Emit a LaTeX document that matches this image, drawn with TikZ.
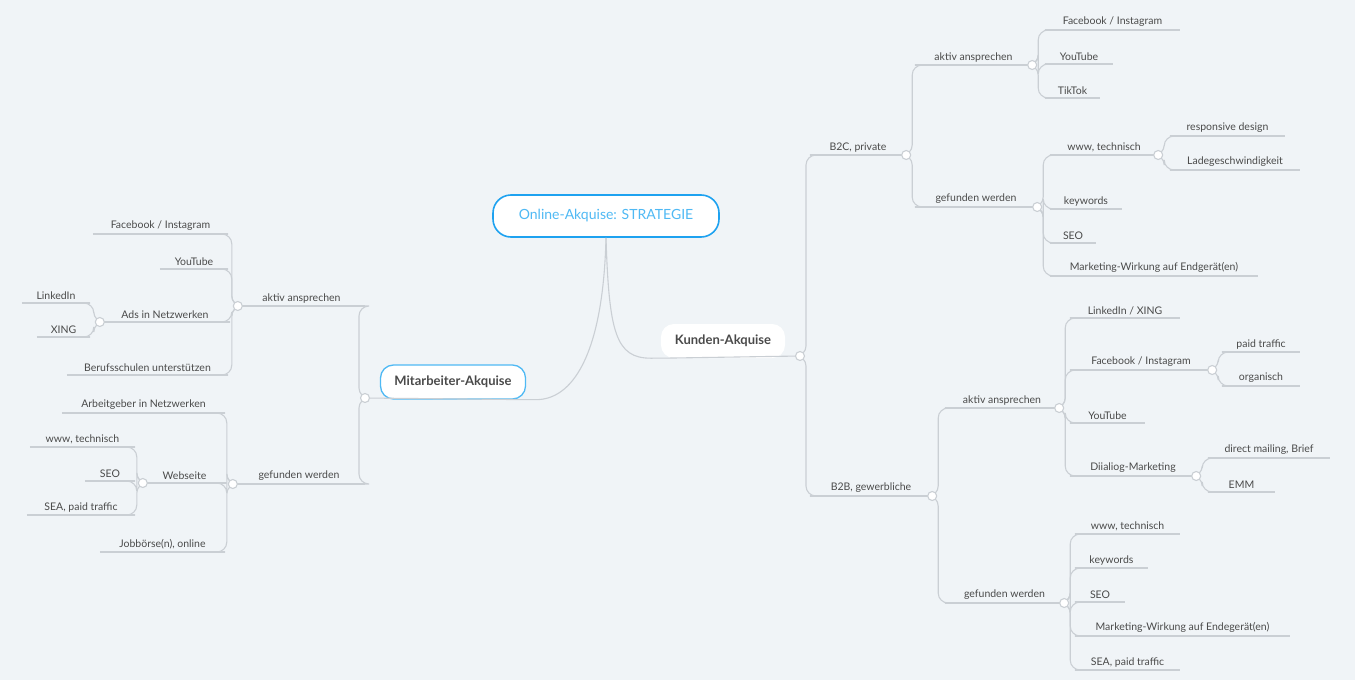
\documentclass[tikz,border=0pt]{standalone}
\usepackage{fontspec}
\setmainfont{Lato}
\definecolor{mmBg}{HTML}{F0F4F7}
\definecolor{mmLine}{HTML}{CACFD4}
\definecolor{mmText}{HTML}{4A4A4A}
\definecolor{mmBlue}{HTML}{1EA2F0}
\definecolor{mmSky}{HTML}{4FB9F4}
\usetikzlibrary{calc,positioning}

% leaf: name, x start, x end, line y, text
\newcommand{\leaf}[5]{%
  \node[leaf, minimum width={(#3-#2)*1pt}] (#1) at ({(#2+#3)/2},#4) {#5};
  \draw[conn] (#1.south west) -- (#1.south east);}

\begin{document}
\begin{tikzpicture}[x=1pt, y=-1pt,
  leaf/.style={anchor=south, inner xsep=0pt, inner ysep=3pt, text=mmText,
    font=\fontsize{10.5}{12}\selectfont},
  conn/.style={draw=mmLine, line width=1.1pt, rounded corners=10pt},
  dot/.style={circle, draw=mmLine, line width=1.1pt, fill=white,
    minimum size=9pt, inner sep=0pt},
  topic/.style={rounded corners=13pt, fill=white, text=mmText,
    font=\fontsize{13}{15}\selectfont\bfseries, inner xsep=14pt,
    minimum height=34pt}
]
  \fill[mmBg] (0,0) rectangle (1355,680);
  \useasboundingbox (0,0) rectangle (1355,680);

  % Root and main topics
  \node[rounded corners=18pt, draw=mmBlue, line width=1.6pt, fill=white,
    text=mmSky, font=\fontsize{14}{16}\selectfont, minimum width=226pt,
    minimum height=42pt] (root) at (606,216) {Online-Akquise: STRATEGIE};
  \node[topic] (kunden) at (723,341) {Kunden-Akquise};
  \node[topic, draw=mmSky, line width=1.3pt] (mitarb) at (453,382) {Mitarbeiter-Akquise};
  \coordinate (kc) at (800,356);
  \coordinate (mc) at (365,398);
  \draw[conn] (root.south) .. controls +(3,95) and +(-45,0) .. (kunden.south west) -- (kc);
  \draw[conn] (root.south) .. controls +(-3,120) and +(45,0) .. (mitarb.south east) -- (mc);

  % Kunden-Akquise
  \leaf{b2c}{810}{906}{155}{B2C, private}
  \leaf{b2b}{810}{932}{496}{B2B, gewerbliche}
  \foreach \c in {b2c,b2b} \draw[conn] (kc) -- ++(6,0) |- (\c.south west);

  % B2C
  \leaf{caktiv}{915}{1032}{65}{aktiv ansprechen}
  \leaf{cgef}{915}{1037}{207}{gefunden werden}
  \foreach \c in {caktiv,cgef} \draw[conn] (b2c.south east) -- ++(6,0) |- (\c.south west);
  \leaf{cfb}{1045}{1180}{30}{Facebook / Instagram}
  \leaf{cyt}{1045}{1113}{64}{YouTube}
  \leaf{ctt}{1045}{1100}{98}{TikTok}
  \foreach \c in {cfb,cyt,ctt} \draw[conn] (caktiv.south east) -- ++(6,0) |- (\c.south west);
  \leaf{cwww}{1050}{1158}{155}{www, technisch}
  \leaf{ckey}{1050}{1122}{209}{keywords}
  \leaf{cseo}{1050}{1096}{243}{SEO}
  \leaf{cmw}{1050}{1258}{276}{Marketing-Wirkung auf Endgerät(en)}
  \foreach \c in {cwww,ckey,cseo,cmw} \draw[conn] (cgef.south east) -- ++(6,0) |- (\c.south west);
  \leaf{crd}{1170}{1285}{136}{responsive design}
  \leaf{clg}{1170}{1300}{170}{Ladegeschwindigkeit}
  \foreach \c in {crd,clg} \draw[conn] (cwww.south east) -- ++(6,0) |- (\c.south west);

  % B2B
  \leaf{baktiv}{945}{1059}{408}{aktiv ansprechen}
  \leaf{bgef}{945}{1064}{603}{gefunden werden}
  \foreach \c in {baktiv,bgef} \draw[conn] (b2b.south east) -- ++(6,0) |- (\c.south west);
  \leaf{bli}{1070}{1180}{318}{LinkedIn / XING}
  \leaf{bfb}{1070}{1212}{370}{Facebook / Instagram}
  \leaf{byt}{1070}{1145}{423}{YouTube}
  \leaf{bdm}{1070}{1196}{476}{Diialiog-Marketing}
  \foreach \c in {bli,bfb,byt,bdm} \draw[conn] (baktiv.south east) -- ++(6,0) |- (\c.south west);
  \leaf{bpt}{1222}{1300}{352}{paid traffic}
  \leaf{borg}{1222}{1300}{386}{organisch}
  \foreach \c in {bpt,borg} \draw[conn] (bfb.south east) -- ++(6,0) |- (\c.south west);
  \leaf{bdmb}{1208}{1330}{458}{direct mailing, Brief}
  \leaf{bemm}{1208}{1275}{492}{EMM}
  \foreach \c in {bdmb,bemm} \draw[conn] (bdm.south east) -- ++(6,0) |- (\c.south west);
  \leaf{bwww}{1075}{1180}{534}{www, technisch}
  \leaf{bkey}{1075}{1148}{568}{keywords}
  \leaf{bseo}{1075}{1125}{602}{SEO}
  \leaf{bmw}{1075}{1290}{636}{Marketing-Wirkung auf Endegerät(en)}
  \leaf{bsea}{1075}{1180}{670}{SEA, paid traffic}
  \foreach \c in {bwww,bkey,bseo,bmw,bsea} \draw[conn] (bgef.south east) -- ++(6,0) |- (\c.south west);

  % Mitarbeiter-Akquise
  \leaf{maktiv}{238}{365}{306}{aktiv ansprechen}
  \leaf{mgef}{233}{365}{484}{gefunden werden}
  \foreach \c in {maktiv,mgef} \draw[conn] (mc) -- ++(-6,0) |- (\c.south east);
  \leaf{mfb}{93}{228}{234}{Facebook / Instagram}
  \leaf{myt}{160}{228}{269}{YouTube}
  \leaf{mads}{100}{230}{322}{Ads in Netzwerken}
  \leaf{mbs}{67}{228}{375}{Berufsschulen unterstützen}
  \foreach \c in {mfb,myt,mads,mbs} \draw[conn] (maktiv.south west) -- ++(-6,0) |- (\c.south east);
  \leaf{mli}{22}{90}{303}{LinkedIn}
  \leaf{mxing}{37}{90}{337}{XING}
  \foreach \c in {mli,mxing} \draw[conn] (mads.south west) -- ++(-6,0) |- (\c.south east);
  \leaf{mag}{62}{225}{413}{Arbeitgeber in Netzwerken}
  \leaf{mweb}{143}{226}{483}{Webseite}
  \leaf{mjb}{100}{225}{552}{Jobbörse(n), online}
  \foreach \c in {mag,mweb,mjb} \draw[conn] (mgef.south west) -- ++(-6,0) |- (\c.south east);
  \leaf{mwww}{30}{135}{447}{www, technisch}
  \leaf{mseo}{85}{135}{481}{SEO}
  \leaf{msea}{27}{135}{515}{SEA, paid traffic}
  \foreach \c in {mwww,mseo,msea} \draw[conn] (mweb.south west) -- ++(-6,0) |- (\c.south east);

  % Junction dots
  \foreach \p in {kc,mc,b2c.south east,b2b.south east,caktiv.south east,
    cgef.south east,cwww.south east,baktiv.south east,bgef.south east,
    bfb.south east,bdm.south east,maktiv.south west,mgef.south west,
    mads.south west,mweb.south west}
    \node[dot] at (\p) {};
\end{tikzpicture}
\end{document}
